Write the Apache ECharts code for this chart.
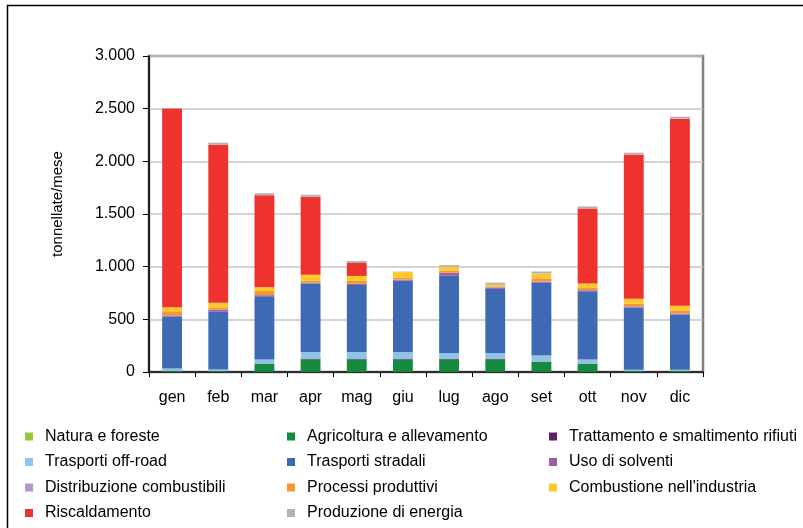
<!DOCTYPE html>
<html><head><meta charset="utf-8">
<script src="https://cdn.jsdelivr.net/npm/echarts@6/dist/echarts.min.js"></script>
<style>html,body{margin:0;padding:0;background:#fff}#c{width:803px;height:528px}</style>
</head><body><div id="c"></div>
<script>
var months = ['gen','feb','mar','apr','mag','giu','lug','ago','set','ott','nov','dic'];
var yTicks = [0, 500, 1000, 1500, 2000, 2500, 3000];
var natura        = [1, 1, 1, 1, 1, 1, 1, 1, 1, 1, 1, 1];
var agricoltura   = [10, 8, 76, 117, 117, 117, 117, 117, 95, 76, 9, 9];
var trattamento   = [2, 2, 3, 9, 9, 9, 9, 9, 3, 3, 2, 2];
var offroad       = [20, 12, 38, 63, 63, 63, 54, 54, 57, 38, 9, 9];
var stradali      = [494, 551, 601, 649, 636, 677, 734, 608, 693, 649, 592, 525];
var solventi      = [10, 16, 10, 9, 9, 9, 25, 13, 9, 9, 9, 9];
var distribuzione = [2, 2, 2, 2, 2, 2, 2, 2, 2, 2, 2, 2];
var processi      = [38, 22, 38, 16, 28, 16, 22, 9, 28, 19, 25, 28];
var combustione   = [38, 44, 35, 57, 47, 57, 35, 16, 47, 44, 47, 44];
var riscaldamento = [1886, 1500, 874, 741, 123, 0, 0, 0, 0, 712, 1367, 1776];
var energia       = [3, 19, 19, 19, 19, 3, 16, 19, 19, 19, 19, 19];

var seriesNames = ['Natura e foreste', 'Agricoltura e allevamento', 'Trattamento e smaltimento rifiuti',
  'Trasporti off-road', 'Trasporti stradali', 'Uso di solventi',
  'Distribuzione combustibili', 'Processi produttivi', 'Combustione nell\'industria',
  'Riscaldamento', 'Produzione di energia'];
var seriesData = [natura, agricoltura, trattamento, offroad, stradali, solventi,
  distribuzione, processi, combustione, riscaldamento, energia];
var seriesColors = ['#92C83E', '#168A3E', '#5C2166', '#8FC3E8', '#3D6AB3', '#9E5BA6',
  '#AF98CC', '#F7962E', '#FFCA29', '#EE332E', '#B2B2B2'];

var fontMain = "'Liberation Sans', Arial, sans-serif";

function fmt(v){ return String(v).replace(/\B(?=(\d{3})+(?!\d))/g, '.'); }

var series = seriesNames.map(function(n, i){
  return {
    name: n, type: 'bar', stack: 'tot', data: seriesData[i], barWidth: '43%',
    itemStyle: {color: seriesColors[i]}, emphasis: {disabled: true}
  };
});

function legendCol(col, left){
  var names = seriesNames.filter(function(n, i){ return i % 3 === col; });
  return {
    orient: 'vertical', left: left, top: 428.5, padding: 0, itemWidth: 8, itemHeight: 8, icon: 'rect',
    itemGap: 9.5, selectedMode: false,
    textStyle: {fontFamily: fontMain, fontSize: 16, color: '#000', lineHeight: 16, padding: [0, 0, 0, 7]},
    data: names
  };
}

var chart = echarts.init(document.getElementById('c'), null, {renderer: 'canvas'});
chart.setOption({
  animation: false,
  backgroundColor: '#fff',
  graphic: [{type: 'rect', shape: {x: 7.5, y: 5.5, width: 900, height: 600},
    style: {fill: 'none', stroke: '#000', lineWidth: 1.5}, silent: true}],
  grid: {left: 149, top: 56, right: 100, bottom: 156, show: true, borderColor: '#808080', borderWidth: 2.5, containLabel: false},
  legend: [legendCol(0, 25), legendCol(1, 287), legendCol(2, 549)],
  xAxis: {
    type: 'category', data: months,
    axisLine: {lineStyle: {color: '#000', width: 1.5}},
    axisTick: {show: true, length: 5, lineStyle: {color: '#000'}},
    axisLabel: {fontFamily: fontMain, fontSize: 16, color: '#000', margin: 18}
  },
  yAxis: {
    type: 'value', min: yTicks[0], max: yTicks[yTicks.length-1], interval: 500,
    name: 'tonnellate/mese', nameLocation: 'middle', nameRotate: 90, nameGap: 84,
    nameTextStyle: {fontFamily: fontMain, fontSize: 15, color: '#000', padding: [0, 0, 0, 20]},
    axisLine: {show: true, lineStyle: {color: '#000', width: 1.5}},
    axisTick: {show: true, length: 6, lineStyle: {color: '#000'}},
    axisLabel: {fontFamily: fontMain, fontSize: 16, color: '#000', margin: 14, formatter: fmt},
    splitLine: {lineStyle: {color: '#c4c4c4', width: 1.5}}
  },
  series: series
});
</script></body></html>
